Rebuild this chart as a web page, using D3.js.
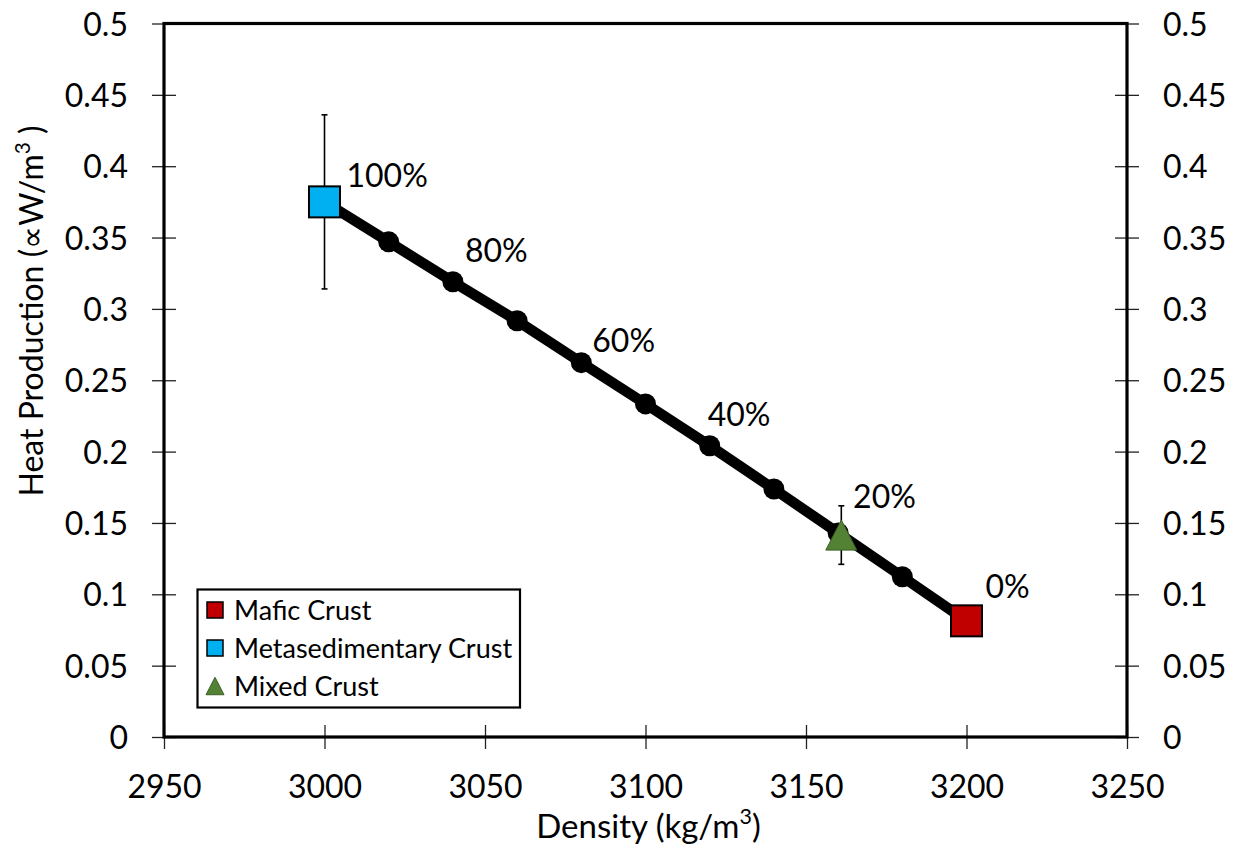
<!DOCTYPE html>
<html>
<head>
<meta charset="utf-8">
<script src="https://cdn.jsdelivr.net/npm/d3@7/dist/d3.min.js"></script>
<style>
  html, body { margin: 0; padding: 0; background: #fff; }
  svg { display: block; font-family: Lato, "Open Sans", sans-serif; }
</style>
</head>
<body>
<svg id="chart" width="1241" height="848"></svg>
<script>
// Mixing line between mafic (0%) and metasedimentary (100%) crust
const density = [3000, 3020, 3040, 3060, 3080, 3100, 3120, 3140, 3160, 3180, 3200];
const heat    = [0.375, 0.347, 0.319, 0.2917, 0.2623, 0.2334, 0.2041, 0.1738, 0.143, 0.1123, 0.0814];

// Percent labels on every second mixing point
const pctLabels = ["100%", "80%", "60%", "40%", "20%", "0%"];
const pctIndex  = [0, 2, 4, 6, 8, 10];

// End members and mixed crust with error bars
const endNames   = ["Mafic Crust", "Metasedimentary Crust", "Mixed Crust"];
const endDensity = [3200, 3000, 3161];
const endHeat    = [0.0814, 0.375, 0.1415];
const endErr     = [0, 0.061, 0.0205];
const endColor   = ["#C00000", "#00B0F0", "#548235"];
const endShape   = ["square", "square", "triangle"];

const xTicks = [2950, 3000, 3050, 3100, 3150, 3200, 3250];
const yTicks = [0, 0.05, 0.1, 0.15, 0.2, 0.25, 0.3, 0.35, 0.4, 0.45, 0.5];
const yTickText = ["0", "0.05", "0.1", "0.15", "0.2", "0.25", "0.3", "0.35", "0.4", "0.45", "0.5"];

const svg = d3.select("#chart");
const pLeft = 164, pRight = 1127, pTop = 23.5, pBottom = 737;
const x = d3.scaleLinear().domain([2950, 3250]).range([pLeft, pRight]);
const y = d3.scaleLinear().domain([0, 0.5]).range([pBottom, pTop]);

const fs = 32;

// axes with ticks crossing the frame
const yFmt = d => yTickText[yTicks.indexOf(d)];
const axL = svg.append("g").attr("transform", `translate(${pLeft + 12},0)`)
  .call(d3.axisLeft(y).tickValues(yTicks).tickFormat(yFmt).tickSize(24).tickPadding(24));
const axR = svg.append("g").attr("transform", `translate(${pRight - 12},0)`)
  .call(d3.axisRight(y).tickValues(yTicks).tickFormat(yFmt).tickSize(24).tickPadding(24));
const axB = svg.append("g").attr("transform", `translate(0,${pBottom - 12})`)
  .call(d3.axisBottom(x).tickValues(xTicks).tickFormat(d3.format("d")).tickSize(24).tickPadding(26));
[axL, axR, axB].forEach(a => {
  a.select(".domain").remove();
  a.selectAll(".tick line").attr("stroke", "#222").attr("stroke-width", 1.3);
  a.selectAll(".tick text").attr("font-size", fs).attr("fill", "#000")
    .attr("font-family", "Lato, sans-serif");
});
axL.selectAll(".tick text").attr("dy", "0.36em");
axR.selectAll(".tick text").attr("dy", "0.36em");

// plot frame
svg.append("rect")
  .attr("x", pLeft).attr("y", pTop)
  .attr("width", pRight - pLeft).attr("height", pBottom - pTop)
  .attr("fill", "none").attr("stroke", "#000").attr("stroke-width", 3.2);

// axis titles
const tfs = 33;
const xt = svg.append("text").attr("x", (pLeft + pRight) / 2 + 3).attr("y", 838)
  .attr("text-anchor", "middle").attr("font-size", tfs).attr("fill", "#000");
xt.append("tspan").text("Density (kg/m");
xt.append("tspan").attr("font-size", tfs * 0.65).attr("dy", -tfs * 0.42).text("3");
xt.append("tspan").attr("dy", tfs * 0.42).text(")");

const yt = svg.append("text")
  .attr("transform", "translate(43,311) rotate(-90)")
  .attr("text-anchor", "middle").attr("font-size", fs).attr("fill", "#000");
yt.append("tspan").text("Heat Production (\u221DW/m");
yt.append("tspan").attr("font-size", fs * 0.65).attr("dy", -fs * 0.42).text("3");
yt.append("tspan").attr("dy", fs * 0.42).text(" )");

// mixing line and points
const pts = density.map((d, i) => [d, heat[i]]);
svg.append("path")
  .attr("d", d3.line().x(d => x(d[0])).y(d => y(d[1]))(pts))
  .attr("fill", "none").attr("stroke", "#000").attr("stroke-width", 10.5)
  .attr("stroke-linejoin", "round");
svg.append("g").selectAll("circle").data(pts).join("circle")
  .attr("cx", d => x(d[0])).attr("cy", d => y(d[1])).attr("r", 10.5).attr("fill", "#000");

// percent labels (offsets from their points, in pixels)
const pctOffset = [[22, -15], [12, -20], [11, -11], [-2, -20], [15, -25], [19, -23]];
svg.append("g").selectAll("text").data(pctLabels).join("text")
  .attr("x", (d, i) => x(density[pctIndex[i]]) + pctOffset[i][0])
  .attr("y", (d, i) => y(heat[pctIndex[i]]) + pctOffset[i][1])
  .attr("font-size", fs).attr("fill", "#000").text(d => d);

// error bars
const eb = svg.append("g").attr("stroke", "#000").attr("stroke-width", 1.6);
endDensity.forEach((d, i) => {
  if (!endErr[i]) return;
  const cx = x(d), y0 = y(endHeat[i] - endErr[i]), y1 = y(endHeat[i] + endErr[i]);
  eb.append("line").attr("x1", cx).attr("x2", cx).attr("y1", y0).attr("y2", y1);
  eb.append("line").attr("x1", cx - 3).attr("x2", cx + 3).attr("y1", y0).attr("y2", y0);
  eb.append("line").attr("x1", cx - 3).attr("x2", cx + 3).attr("y1", y1).attr("y2", y1);
});

// marker drawing
function marker(g, shape, color, cx, cy, size) {
  if (shape === "square") {
    g.append("rect").attr("x", cx - size / 2).attr("y", cy - size / 2)
      .attr("width", size).attr("height", size)
      .attr("fill", color).attr("stroke", "#000").attr("stroke-width", size > 20 ? 2 : 1.5);
  } else {
    const h = size * 0.97, w = size;
    g.append("path")
      .attr("d", `M${cx},${cy - h / 2}L${cx + w / 2},${cy + h / 2}L${cx - w / 2},${cy + h / 2}Z`)
      .attr("fill", color).attr("stroke", "#3d5f26").attr("stroke-width", 1);
  }
}
const mk = svg.append("g");
endDensity.forEach((d, i) => marker(mk, endShape[i], endColor[i], x(d), y(endHeat[i]), 31));

// legend
const lg = svg.append("g");
lg.append("rect").attr("x", 197.5).attr("y", 589.5).attr("width", 322.5).attr("height", 118)
  .attr("fill", "#fff").attr("stroke", "#000").attr("stroke-width", 2.2);
const rowY = [610, 648, 686];
endNames.forEach((n, i) => {
  marker(lg, endShape[i], endColor[i], 215, rowY[i], i === 2 ? 18 : 16);
  lg.append("text").attr("x", 234).attr("y", rowY[i]).attr("dy", "0.36em")
    .attr("font-size", 27).attr("fill", "#000").text(n);
});
</script>
</body>
</html>
